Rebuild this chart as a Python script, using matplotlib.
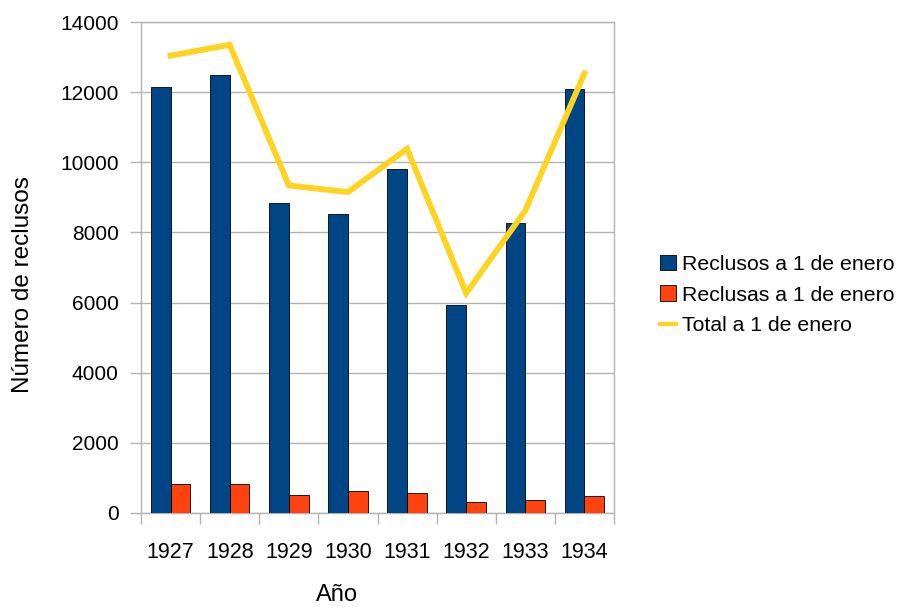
import numpy as np
import matplotlib
matplotlib.use('Agg')
import matplotlib.pyplot as plt
from matplotlib.patches import Patch
from matplotlib.lines import Line2D

plt.rcParams['font.family'] = ['Liberation Sans', 'DejaVu Sans']

anios = ['1927', '1928', '1929', '1930', '1931', '1932', '1933', '1934']
reclusos = [12160, 12490, 8835, 8520, 9795, 5945, 8280, 12085]
reclusas = [835, 835, 500, 625, 570, 315, 370, 485]
total = [13040, 13350, 9340, 9150, 10385, 6270, 8625, 12535]

c_azul = '#004586'
c_rojo = '#ff420e'
c_amarillo = '#ffd320'
c_gris = '#b3b3b3'

fig = plt.figure(figsize=(8.99, 6.07), dpi=100)
ax = fig.add_axes([141 / 899, 94 / 607, 473 / 899, 491 / 607])

x = np.arange(len(anios))
w = 0.335
ax.bar(x - w / 2, reclusos, w, color=c_azul, edgecolor='black', linewidth=0.6, zorder=3)
ax.bar(x + w / 2, reclusas, w, color=c_rojo, edgecolor='black', linewidth=0.6, zorder=3)
ax.plot(x, total, color=c_amarillo, linewidth=4.2, solid_joinstyle='miter', zorder=4)

ax.set_xlim(-0.5, len(anios) - 0.5)
ax.set_ylim(0, 14000)
ax.set_yticks(range(0, 14001, 2000))
ax.grid(axis='y', color=c_gris, linewidth=1, zorder=0)

ax.set_xticks(x)
ax.set_xticklabels(anios)
ax.set_xticks(np.arange(-0.5, len(anios)), minor=True)
ax.tick_params(axis='x', which='major', length=0, pad=21, labelsize=15.5)
ax.tick_params(axis='x', which='minor', length=8, color=c_gris, width=1)
ax.tick_params(axis='y', length=8, color=c_gris, width=1, pad=8, labelsize=15)

for s in ax.spines.values():
    s.set_color(c_gris)
    s.set_linewidth(1)

ax.set_xlabel('Año', fontsize=17)
ax.xaxis.set_label_coords(0.415, -0.144)
ax.set_ylabel('Número de reclusos', fontsize=17.5)
ax.yaxis.set_label_coords(-0.227, 0.466)

handles = [
    Patch(facecolor=c_azul, edgecolor='black', linewidth=0.6),
    Patch(facecolor=c_rojo, edgecolor='black', linewidth=0.6),
    Line2D([], [], color=c_amarillo, linewidth=3),
]
etiquetas = ['Reclusos a 1 de enero', 'Reclusas a 1 de enero', 'Total a 1 de enero']
fig.legend(handles, etiquetas, loc='center left', bbox_to_anchor=(641 / 899, 1 - 295 / 607),
           frameon=False, fontsize=15.3, handlelength=0.75, handleheight=0.75,
           handletextpad=0.3, labelspacing=0.55)

fig.savefig('out.png', dpi=100)
